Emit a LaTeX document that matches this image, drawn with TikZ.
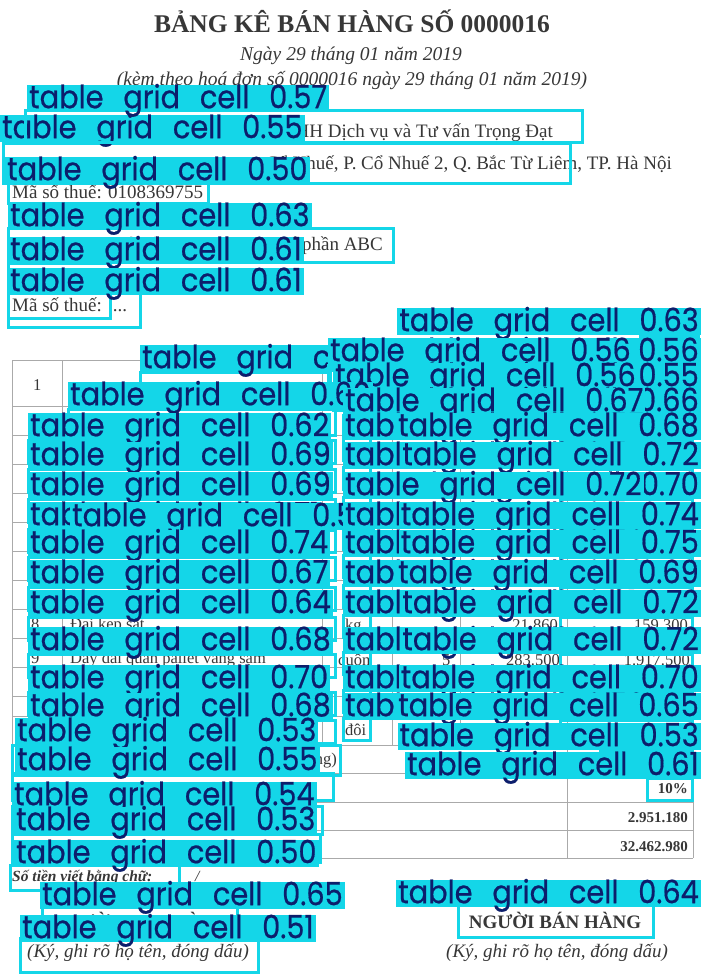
\documentclass[tikz,border=0pt]{standalone}
\usepackage{fontspec}
\setmainfont{Liberation Serif}
\newfontfamily\labelfont[FakeBold=0.6]{Poppins}
\usepackage{xcolor}
\usepackage{graphicx}
\definecolor{CellCyan}{RGB}{20,214,232}
\definecolor{CellNavy}{RGB}{12,30,108}
\definecolor{InkGray}{RGB}{55,55,55}
\definecolor{RuleGray}{RGB}{170,170,170}
\tikzset{
  celllabel/.style={anchor=north west, fill=CellCyan, text=CellNavy, inner xsep=2pt, inner ysep=0pt,
    text height=23pt, text depth=4pt, font=\labelfont\fontsize{32}{32}\selectfont},
  cellline/.style={draw=CellCyan, line width=3pt},
  ink/.style={text=InkGray, inner sep=0pt, anchor=base west},
  body/.style={ink, font=\fontsize{19}{19}\selectfont},
  small/.style={ink, font=\fontsize{16.5}{16.5}\selectfont},
}
% one detection: box first, then its label
\newcommand{\gridhit}[9][]{%
  \draw[cellline] (#6,#7) rectangle (#8,#9);
  \node[celllabel,#1] (#2) at (#3,#4)
    {\scalebox{0.9}[1]{table\hspace{22pt}grid\hspace{22pt}cell\hspace{22pt}#5}};}

\begin{document}
\begin{tikzpicture}[x=1pt,y=-1pt]
    \fill[white] (0,0) rectangle (701,974);
    \useasboundingbox (0,0) rectangle (701,974);

    % the scanned sheet
    \node[ink, anchor=base, font=\bfseries\fontsize{25.5}{25.5}\selectfont] (title) at (352,33) {BẢNG KÊ BÁN HÀNG SỐ 0000016};
    \node[ink, anchor=base, font=\itshape\fontsize{19.5}{19.5}\selectfont] (date) at (351,61) {Ngày 29 tháng 01 năm 2019};
    \node[ink, anchor=base, font=\itshape\fontsize{19.5}{19.5}\selectfont] (ref) at (352,85) {(kèm theo hoá đơn số 0000016 ngày 29 tháng 01 năm 2019)};
    \node[body, anchor=base east] (seller) at (553,137) {Đơn vị bán hàng: Công ty TNHH Dịch vụ và Tư vấn Trọng Đạt};
    \node[body, anchor=base east] (addr) at (672,169) {Cổ Nhuế, P. Cổ Nhuế 2, Q. Bắc Từ Liêm, TP. Hà Nội};
    \node[body] (taxa) at (12,198) {Mã số thuế: 0108369755};
    \node[body, anchor=base east] (buyer) at (383,250) {Tên đơn vị: Công ty Cổ phần ABC};
    \node[body] (taxb) at (12,311) {Mã số thuế: ....};
    \node[ink, anchor=base east, font=\itshape\fontsize{12}{12}\selectfont] (unit) at (690,349) {Đơn vị tính: VND};

    % table rules
    \foreach \y in {360,406,435,464,493,522,551,580,609,638,667,696,716,745,773,802,830,858}
        \draw[RuleGray] (12,\y) -- (693,\y);
    \foreach \x in {62,322,392,460}
        \draw[RuleGray] (\x,360) -- (\x,745);
    \foreach \x in {12,567,693}
        \draw[RuleGray] (\x,360) -- (\x,858);

    \node[small] (n1) at (33,390) {1};
    \node[small] (n8) at (31,629) {8};
    \node[small] (i8) at (70,629) {Đai kẹp sắt};
    \node[small] (u8) at (345,630) {kg};
    \node[small, anchor=base east] (p8) at (558,630) {21.860};
    \node[small, anchor=base east] (a8) at (688,630) {159.300};
    \node[small] (n9) at (31,663) {9};
    \node[small] (i9) at (70,663) {Dây đai quấn pallet vàng sạm};
    \node[small] (u9) at (338,665) {cuộn};
    \node[small] (q9) at (442,665) {5};
    \node[small, anchor=base east] (p9) at (560,665) {283.500};
    \node[small, anchor=base east] (a9) at (690,665) {1.917.500};
    \node[small] (u10) at (345,735) {đôi};
    \node[small, anchor=base east] (sum) at (337,764) {(Cộng tiền hàng)};
    \node[small, anchor=base east, font=\bfseries\fontsize{15}{15}\selectfont] (vat) at (688,793) {10\%};
    \node[small, anchor=base east, font=\bfseries\fontsize{15}{15}\selectfont] (tax) at (688,822) {2.951.180};
    \node[small, anchor=base east, font=\bfseries\fontsize{15}{15}\selectfont] (total) at (688,851) {32.462.980};
    \node[small, font=\bfseries\itshape\fontsize{15.5}{15.5}\selectfont] (words) at (12,881) {Số tiền viết bằng chữ:};
    \node[small, font=\itshape\fontsize{15.5}{15.5}\selectfont] (slash) at (195,881) {/};
    \node[ink, anchor=base, font=\bfseries\fontsize{19}{19}\selectfont] (buyersign) at (140,928) {NGƯỜI MUA HÀNG};
    \node[ink, anchor=base, font=\bfseries\fontsize{19}{19}\selectfont] (sellersign) at (555,928) {NGƯỜI BÁN HÀNG};
    \node[ink, font=\itshape\fontsize{19}{19}\selectfont] (signa) at (27,957) {(Ký, ghi rõ họ tên, đóng dấu)};
    \node[ink, anchor=base, font=\itshape\fontsize{19}{19}\selectfont] (signb) at (557,957) {(Ký, ghi rõ họ tên, đóng dấu)};

    % detections, header part
    \gridhit{c55}{0}{115}{0.55}{3}{143}{570}{183}
    \gridhit{c57}{27}{85}{0.57}{25}{110}{582}{142}
    \gridhit{c50}{5}{157}{0.50}{8}{183}{208}{203}
    \gridhit{c63}{8}{203}{0.63}{8}{228}{393}{262}
    \gridhit{c61a}{8}{237}{0.61}{8}{263}{110}{318}
    \gridhit{c61b}{8}{268}{0.61}{8}{293}{140}{327}

    % detections, table
    \gridhit[anchor=north east]{r63}{701}{308}{0.63}{640}{336}{698}{352}
    \gridhit{h58}{140}{345}{0.58}{140}{372}{330}{392}
    \gridhit[anchor=north east]{r56}{701}{338}{0.56}{560}{365}{692}{388}
    \gridhit{m56}{328}{338}{0.56}{328}{365}{392}{388}
    \gridhit[anchor=north east]{r55}{701}{363}{0.55}{560}{390}{692}{410}
    \gridhit{m56b}{333}{363}{0.56}{333}{390}{392}{410}
    \gridhit{l60}{68}{382}{0.60}{68}{409}{335}{435}
    \gridhit[anchor=north east]{r66}{701}{388}{0.66}{560}{415}{692}{438}
    \gridhit{m67}{343}{388}{0.67}{343}{415}{392}{438}
    \foreach \y/\l/\m/\r in {413/0.62/0.55/0.68, 442/0.69/0.57/0.72}{
        \gridhit{l\y}{28}{\y}{\l}{28}{\y+27}{335}{\y+50}
        \gridhit{m\y}{343}{\y}{\m}{343}{\y+25}{370}{\y+47}
        \gridhit[anchor=north east]{r\y}{701}{\y}{\r}{560}{\y+27}{692}{\y+50}
    }
    \gridhit{l472}{28}{472}{0.69}{28}{499}{335}{522}
    \gridhit[anchor=north east]{r472}{701}{472}{0.70}{560}{499}{692}{522}
    \gridhit{m472}{343}{472}{0.72}{343}{497}{370}{519}
    \gridhit{l502}{28}{502}{0.71}{28}{529}{335}{552}
    \gridhit{k502}{70}{503}{0.58}{70}{530}{335}{552}
    \gridhit{m502}{343}{502}{0.57}{343}{527}{370}{549}
    \gridhit[anchor=north east]{r502}{701}{502}{0.74}{560}{529}{692}{552}
    \foreach \y/\l/\m/\r in {530/0.74/0.58/0.75, 560/0.67/0.59/0.69, 590/0.64/0.61/0.72,
                             627/0.68/0.60/0.72, 665/0.70/0.57/0.70, 693/0.68/0.59/0.65}{
        \gridhit{l\y}{28}{\y}{\l}{28}{\y+27}{335}{\y+50}
        \gridhit{m\y}{343}{\y}{\m}{343}{\y+25}{370}{\y+47}
        \gridhit[anchor=north east]{r\y}{701}{\y}{\r}{560}{\y+27}{692}{\y+50}
    }

    % detections, totals and signatures
    \gridhit{l718}{15}{718}{0.53}{12}{745}{340}{775}
    \gridhit[anchor=north east]{r723}{701}{723}{0.53}{600}{750}{692}{772}
    \gridhit{l747}{15}{747}{0.55}{12}{773}{333}{800}
    \gridhit[anchor=north east]{r752}{701}{752}{0.61}{647}{778}{692}{800}
    \gridhit{l782}{12}{782}{0.54}{12}{806}{322}{834}
    \gridhit{l807}{14}{807}{0.53}{12}{834}{320}{862}
    \gridhit{l840}{14}{840}{0.50}{10}{865}{179}{890}
    \gridhit{l882}{40}{882}{0.65}{42}{907}{237}{925}
    \gridhit[anchor=north east]{r880}{701}{880}{0.64}{458}{905}{653}{937}
    \gridhit{l915}{20}{915}{0.51}{20}{938}{258}{972}
\end{tikzpicture}
\end{document}
